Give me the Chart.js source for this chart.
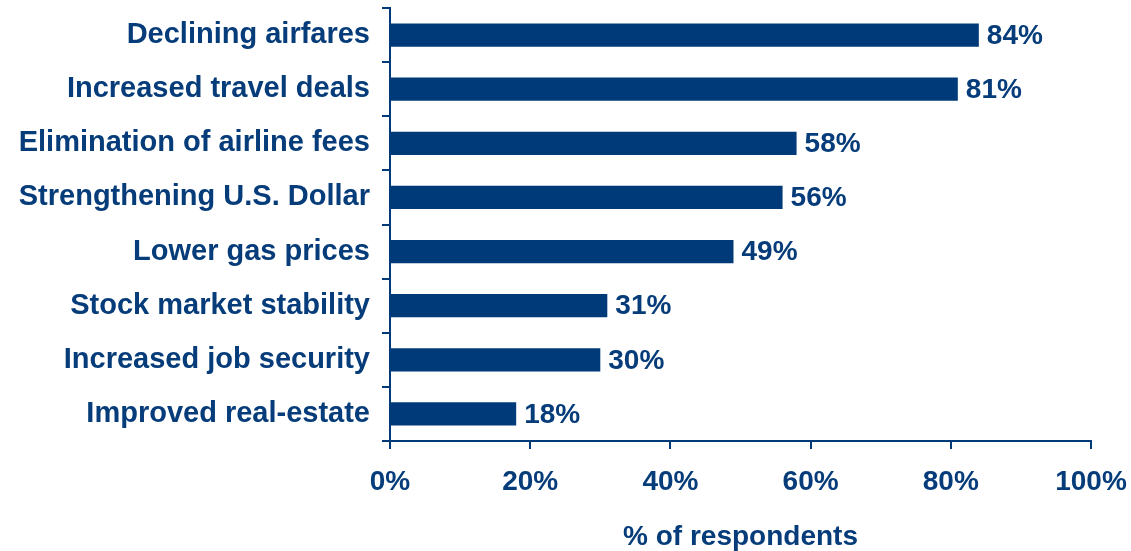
<!DOCTYPE html>
<html>
<head>
<meta charset="utf-8">
<script src="https://cdn.jsdelivr.net/npm/chart.js@4"></script>
<style>
body { margin: 0; background: #fff; }
#wrap { width: 1131px; height: 551px; position: relative; }
</style>
</head>
<body>
<div id="wrap"><canvas id="reasonsChart"></canvas></div>
<script>
// survey reasons, top to bottom
const reasons = [
  'Declining airfares',
  'Increased travel deals',
  'Elimination of airline fees',
  'Strengthening U.S. Dollar',
  'Lower gas prices',
  'Stock market stability',
  'Increased job security',
  'Improved real-estate'
];

const percents = [84, 81, 58, 56, 49, 31, 30, 18];

const xTicks = [0, 20, 40, 60, 80, 100];

const navy = '#003a78';
const textNavy = '#053c79';
const fontFamily = '"Liberation Sans", Arial, sans-serif';
const boldFont = { family: fontFamily, size: 28, weight: 'bold' };

// write "NN%" right after each bar
const barValueLabels = {
  id: 'barValueLabels',
  afterDatasetsDraw(chart) {
    const ctx = chart.ctx;
    const meta = chart.getDatasetMeta(0);
    ctx.save();
    ctx.font = 'bold 28px ' + fontFamily;
    ctx.fillStyle = textNavy;
    ctx.textAlign = 'left';
    ctx.textBaseline = 'middle';
    meta.data.forEach((bar, i) => {
      ctx.fillText(percents[i] + '%', bar.x + 8, bar.y + 1);
    });
    ctx.restore();
  }
};

new Chart(
  document.getElementById('reasonsChart'),
  {
    type: 'bar',
    data: {
      labels: reasons,
      datasets: [{
        data: percents,
        backgroundColor: navy,
        borderWidth: 0,
        barPercentage: 0.43,
        categoryPercentage: 1
      }]
    },
    options: {
      indexAxis: 'y',
      responsive: true,
      maintainAspectRatio: false,
      animation: false,
      layout: { padding: { top: 8, right: 40, bottom: 0, left: 0 } },
      plugins: {
        legend: { display: false },
        tooltip: { enabled: false }
      },
      scales: {
        x: {
          min: 0,
          max: 100,
          afterBuildTicks: scale => {
            scale.ticks = xTicks.map(v => ({ value: v }));
          },
          afterFit: scale => {
            scale.height = 110;
            scale.paddingLeft = 0;
            scale.paddingRight = 0;
          },
          grid: {
            drawOnChartArea: false,
            tickLength: 8,
            color: navy,
            lineWidth: 2
          },
          border: { color: navy, width: 2 },
          ticks: {
            color: textNavy,
            font: boldFont,
            padding: 16,
            maxRotation: 0,
            callback: v => v + '%'
          },
          title: {
            display: true,
            text: '% of respondents',
            color: textNavy,
            font: { ...boldFont, lineHeight: 1 },
            padding: { top: 0, bottom: 0 }
          }
        },
        y: {
          afterFit: scale => {
            scale.width = 390;
            scale.paddingTop = 0;
            scale.paddingBottom = 0;
          },
          grid: {
            drawOnChartArea: false,
            offset: true,
            tickLength: 8,
            color: navy,
            lineWidth: 2
          },
          border: { color: navy, width: 2 },
          ticks: {
            color: textNavy,
            font: { ...boldFont, size: 29 },
            padding: 12,
            autoSkip: false
          }
        }
      }
    },
    plugins: [barValueLabels]
  }
);
</script>
</body>
</html>
